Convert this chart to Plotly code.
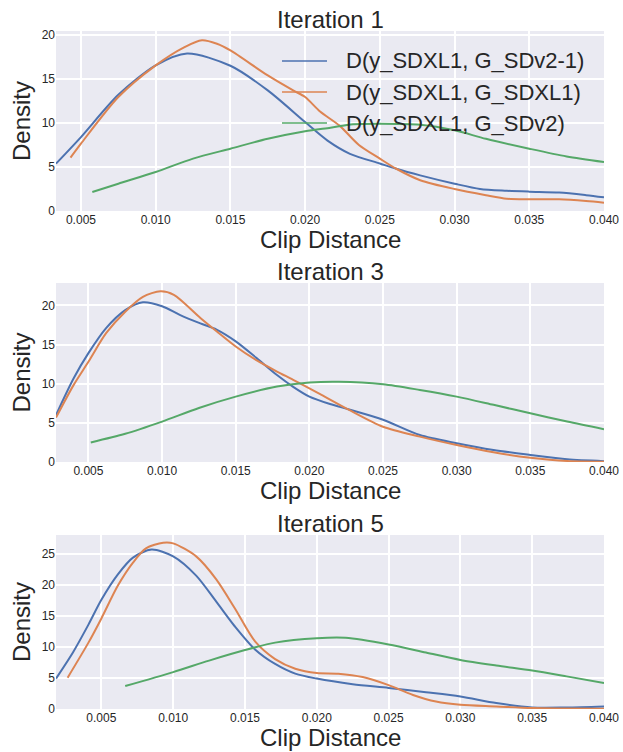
import plotly.graph_objects as go

# ---------------- data ----------------
series_names = ["D(y_SDXL1, G_SDv2-1)", "D(y_SDXL1, G_SDXL1)", "D(y_SDXL1, G_SDv2)"]
panel_titles = ["Iteration 1", "Iteration 3", "Iteration 5"]
x_title = "Clip Distance"
y_title = "Density"

# Iteration 1
it1_blue_x = [0.00333, 0.005, 0.0075, 0.010, 0.0121, 0.015, 0.0175, 0.020, 0.0215, 0.023, 0.025, 0.0261, 0.0277, 0.030, 0.0317, 0.0335, 0.035, 0.037, 0.0388, 0.040]
it1_blue_y = [5.38, 8.4, 13.2, 16.55, 17.9, 16.5, 13.7, 10.1, 8.0, 6.5, 5.4, 4.8, 4.05, 3.1, 2.5, 2.3, 2.2, 2.1, 1.8, 1.55]
it1_orange_x = [0.0043, 0.005, 0.0075, 0.010, 0.0119, 0.0131, 0.0141, 0.015, 0.0175, 0.0192, 0.020, 0.021, 0.0223, 0.0236, 0.025, 0.0261, 0.0277, 0.030, 0.0321, 0.0335, 0.035, 0.037, 0.0388, 0.040]
it1_orange_y = [6.06, 7.65, 12.95, 16.55, 18.6, 19.4, 19.0, 18.25, 15.4, 13.7, 12.95, 11.3, 9.7, 7.5, 5.95, 4.8, 3.5, 2.5, 1.8, 1.4, 1.33, 1.33, 1.14, 0.95]
it1_green_x = [0.00576, 0.0075, 0.010, 0.0125, 0.015, 0.0175, 0.020, 0.0217, 0.0232, 0.025, 0.0277, 0.030, 0.0321, 0.035, 0.0375, 0.040]
it1_green_y = [2.16, 3.1, 4.43, 5.95, 7.08, 8.2, 9.05, 9.47, 9.85, 9.92, 9.8, 9.17, 8.2, 7.08, 6.2, 5.57]

# Iteration 3
it3_blue_x = [0.0028, 0.004, 0.005, 0.0062, 0.0075, 0.0087, 0.010, 0.0112, 0.0126, 0.0137, 0.015, 0.0164, 0.0178, 0.0189, 0.020, 0.0214, 0.0227, 0.025, 0.0275, 0.030, 0.0325, 0.035, 0.0375, 0.040]
it3_blue_y = [6.0, 10.7, 13.9, 17.1, 19.4, 20.4, 19.9, 18.8, 17.7, 16.9, 15.4, 13.3, 11.1, 9.6, 8.35, 7.4, 6.7, 5.4, 3.45, 2.4, 1.53, 0.9, 0.34, 0.1]
it3_orange_x = [0.0028, 0.004, 0.005, 0.0062, 0.0075, 0.0087, 0.0099, 0.0108, 0.0126, 0.0137, 0.015, 0.0164, 0.0178, 0.0189, 0.020, 0.0207, 0.0227, 0.025, 0.0275, 0.030, 0.0325, 0.035, 0.0375, 0.040]
it3_orange_y = [5.67, 9.85, 12.8, 16.45, 19.2, 21.1, 21.8, 21.35, 18.4, 16.7, 14.75, 13.0, 11.55, 10.5, 9.4, 8.7, 6.65, 4.5, 3.24, 2.17, 1.24, 0.55, 0.13, 0.04]
it3_green_x = [0.00516, 0.0075, 0.010, 0.0125, 0.015, 0.0178, 0.020, 0.022, 0.025, 0.0275, 0.030, 0.0325, 0.035, 0.0375, 0.040]
it3_green_y = [2.5, 3.6, 5.16, 6.9, 8.35, 9.63, 10.15, 10.25, 9.93, 9.2, 8.35, 7.3, 6.22, 5.16, 4.18]

# Iteration 5
it5_blue_x = [0.00184, 0.00304, 0.0041, 0.005, 0.00615, 0.0072, 0.0085, 0.010, 0.0116, 0.013, 0.0143, 0.0157, 0.0171, 0.0185, 0.020, 0.0225, 0.025, 0.0276, 0.030, 0.0325, 0.035, 0.0374, 0.040]
it5_blue_y = [4.9, 9.2, 13.6, 17.6, 21.7, 24.4, 25.7, 24.6, 21.5, 17.3, 13.3, 9.6, 7.26, 5.7, 4.9, 4.0, 3.4, 2.7, 2.0, 0.95, 0.26, 0.26, 0.42]
it5_orange_x = [0.00265, 0.0041, 0.005, 0.00615, 0.0072, 0.0081, 0.0093, 0.010, 0.0116, 0.013, 0.0143, 0.0157, 0.0171, 0.0185, 0.020, 0.0215, 0.0232, 0.025, 0.0267, 0.0283, 0.030, 0.0325, 0.035, 0.040]
it5_orange_y = [5.05, 10.7, 14.6, 19.9, 23.6, 25.9, 26.8, 26.7, 24.6, 20.9, 16.2, 10.9, 8.05, 6.5, 5.8, 5.7, 5.15, 3.85, 2.26, 1.2, 0.68, 0.42, 0.16, 0.05]
it5_green_x = [0.00666, 0.010, 0.0125, 0.015, 0.0171, 0.020, 0.022, 0.025, 0.0276, 0.030, 0.0325, 0.035, 0.0374, 0.040]
it5_green_y = [3.7, 5.95, 7.8, 9.5, 10.7, 11.4, 11.47, 10.4, 9.1, 7.9, 7.0, 6.2, 5.26, 4.2]

x_ranges = [[0.00333, 0.040], [0.0028, 0.040], [0.00184, 0.040]]
y_ranges = [[0, 20.45], [0, 22.86], [0, 28.05]]
x_ticks = [0.005, 0.010, 0.015, 0.020, 0.025, 0.030, 0.035, 0.040]

# ---------------- style ----------------
W, H = 623, 752
colors = ["#4C72B0", "#DD8452", "#55A868"]
FONT = "Liberation Sans, Arial, Helvetica, sans-serif"
TXT = "#262626"
BG = "#EAEAF2"

# plot areas in pixels (left, right, top, bottom)
px_x = (56, 604)
px_y = [(31, 211), (283, 462), (535, 709)]
xtitle_offset = 28.5   # px from plot bottom to x-title centre
# legend placement in pixels: line start/end x, text x, row centres y
leg_line_x = (282, 327)
leg_text_x = 344
leg_rows_y = [61, 92, 123]

panels = [
    [(it1_blue_x, it1_blue_y), (it1_orange_x, it1_orange_y), (it1_green_x, it1_green_y)],
    [(it3_blue_x, it3_blue_y), (it3_orange_x, it3_orange_y), (it3_green_x, it3_green_y)],
    [(it5_blue_x, it5_blue_y), (it5_orange_x, it5_orange_y), (it5_green_x, it5_green_y)],
]

fig = go.Figure()
layout = dict(
    width=W, height=H,
    margin=dict(l=0, r=0, t=0, b=0),
    paper_bgcolor="white",
    plot_bgcolor=BG,
    font=dict(family=FONT, color=TXT),
    showlegend=False,
    annotations=[],
    shapes=[],
)

for i, series in enumerate(panels):
    n = "" if i == 0 else str(i + 1)
    xa, ya = "x" + n, "y" + n
    top, bot = px_y[i]
    dom_x = [px_x[0] / W, px_x[1] / W]
    dom_y = [1 - bot / H, 1 - top / H]
    for j, (xs, ys) in enumerate(series):
        fig.add_trace(go.Scatter(
            x=xs, y=ys, mode="lines", name=series_names[j],
            line=dict(color=colors[j], width=2, shape="spline", smoothing=0.8),
            xaxis=xa, yaxis=ya,
        ))
    layout["xaxis" + n] = dict(
        domain=dom_x, anchor=ya, range=x_ranges[i], automargin=False,
        tickvals=x_ticks, tickformat=".3f",
        showgrid=True, gridcolor="white", gridwidth=1.5,
        zeroline=False, showline=False, ticks="",
        tickfont=dict(size=12, color=TXT),
    )
    layout["yaxis" + n] = dict(
        domain=dom_y, anchor=xa, range=y_ranges[i], dtick=5, automargin=False,
        showgrid=True, gridcolor="white", gridwidth=1.5,
        zeroline=False, showline=False, ticks="",
        tickfont=dict(size=12, color=TXT),
        title=dict(text=y_title, font=dict(size=24, color=TXT), standoff=4),
    )
    cx = (dom_x[0] + dom_x[1]) / 2
    layout["annotations"].append(dict(
        text=panel_titles[i], xref="paper", yref="paper",
        x=cx, y=dom_y[1], xanchor="center", yanchor="bottom",
        yshift=-4, showarrow=False, font=dict(size=24, color=TXT),
    ))
    layout["annotations"].append(dict(
        text=x_title, xref="paper", yref="paper",
        x=cx, y=1 - (bot + xtitle_offset) / H, xanchor="center", yanchor="middle",
        showarrow=False, font=dict(size=24, color=TXT),
    ))

# legend (drawn in the first panel, upper right)
for j, name in enumerate(series_names):
    yp = 1 - leg_rows_y[j] / H
    layout["shapes"].append(dict(
        type="line", xref="paper", yref="paper",
        x0=leg_line_x[0] / W, x1=leg_line_x[1] / W, y0=yp, y1=yp,
        line=dict(color=colors[j], width=1.5),
    ))
    layout["annotations"].append(dict(
        text=name, xref="paper", yref="paper", x=leg_text_x / W, y=yp,
        xanchor="left", yanchor="middle", showarrow=False,
        font=dict(size=22, color=TXT),
    ))

fig.update_layout(**layout)
fig.write_html("out.html")
